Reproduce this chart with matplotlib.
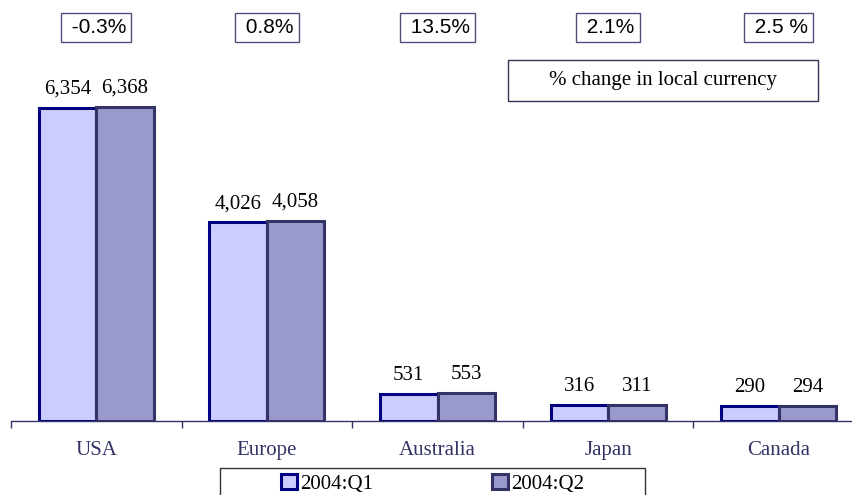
import numpy as np
import matplotlib
matplotlib.use("Agg")
import matplotlib.pyplot as plt
from matplotlib.patches import Rectangle, Patch

regions = ["USA", "Europe", "Australia", "Japan", "Canada"]
q1 = [6354, 4026, 531, 316, 290]
q2 = [6368, 4058, 553, 311, 294]
pct_change = ["-0.3%", "0.8%", "13.5%", "2.1%", "2.5 %"]
series_names = ["2004:Q1", "2004:Q2"]

SERIF = "Liberation Serif"
SANS = "Liberation Sans"
NAVY = "#000080"
DARK = "#333366"

W, H = 852, 495
fig = plt.figure(figsize=(W / 100, H / 100), dpi=100)

# axes run off the right edge like the original
ax_left, ax_right = 11, 864
base_y = 420.5
ax = fig.add_axes([ax_left / W, (H - base_y) / H, (ax_right - ax_left) / W, base_y / H])

x = np.arange(len(regions))
bw = 0.337
b1 = ax.bar(x - bw / 2, q1, bw, color="#CCCCFF", edgecolor=NAVY, linewidth=2.2, label=series_names[0])
b2 = ax.bar(x + bw / 2, q2, bw, color="#9999CC", edgecolor=DARK, linewidth=2.2, label=series_names[1])

ax.set_xlim(-0.5, len(regions) - 0.5)
ax.set_ylim(0, 8540)

for bars in (b1, b2):
    for r in bars:
        ax.annotate(f"{int(r.get_height()):,}", (r.get_x() + r.get_width() / 2, r.get_height()),
                    xytext=(0, 6.5), textcoords="offset points", ha="center", va="bottom",
                    fontsize=15, family=SERIF, color="black")

# spines / ticks
for s in ["top", "right", "left"]:
    ax.spines[s].set_visible(False)
ax.spines["bottom"].set_color(DARK)
ax.spines["bottom"].set_linewidth(1.0)
ax.set_yticks([])
ax.set_xticks(np.arange(-0.5, len(regions), 1.0))
ax.set_xticklabels([])
ax.tick_params(axis="x", which="major", direction="out", length=5, color=DARK, width=1.0)
ax.set_xticks(x, minor=True)
ax.set_xticklabels(regions, minor=True, fontsize=15, family=SERIF, color=DARK)
ax.tick_params(axis="x", which="minor", length=0, pad=14.5)

# percent change boxes
tr = ax.get_xaxis_transform()
for i, p in enumerate(pct_change):
    ax.text(i, (base_y - 27.5) / base_y, " " + p, transform=tr, ha="center", va="center",
            fontsize=15, family=SANS, color="black",
            bbox=dict(boxstyle="square,pad=0.24", facecolor="white", edgecolor="#4d4d7a", linewidth=1.0))

# note box
fig.patches.append(Rectangle((508 / W, (H - 101) / H), 310 / W, 41 / H, transform=fig.transFigure,
                             facecolor="white", edgecolor="#33335a", linewidth=1.0))
fig.text(663 / W, (H - 80.5) / H, "% change in local currency", ha="center", va="center",
         fontsize=15, family=SERIF, color="black")

# legend frame runs off the bottom
fig.patches.append(Rectangle((220 / W, -10 / H), 425 / W, (H - 468 + 10) / H, transform=fig.transFigure,
                             facecolor="white", edgecolor="#333333", linewidth=1.0))
handles = [Patch(facecolor="#CCCCFF", edgecolor=NAVY, linewidth=2.2),
           Patch(facecolor="#9999CC", edgecolor=DARK, linewidth=2.2)]
fig.legend(handles, series_names, loc="center", bbox_to_anchor=(432.5 / W, (H - 484) / H),
           ncol=2, frameon=False, handlelength=0.75, handleheight=0.75, handletextpad=0.15,
           columnspacing=5.7, prop={"family": SERIF, "size": 15})

fig.savefig("out.png", dpi=100)
